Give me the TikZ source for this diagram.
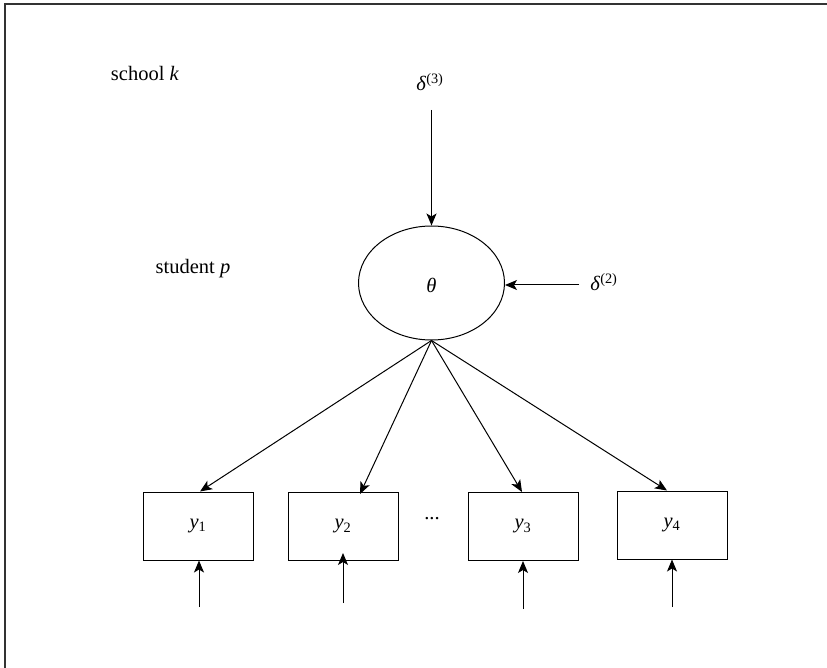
\documentclass[tikz,border=0pt]{standalone}
\usepackage{fontspec}
\setmainfont{Liberation Serif}
\usetikzlibrary{arrows.meta,shapes.geometric}
\begin{document}
\begin{tikzpicture}[x=1pt,y=-1pt,
  every node/.style={font=\fontsize{20.5}{24}\selectfont, inner sep=0pt},
  obs/.style={draw, line width=1pt, minimum width=110pt, minimum height=68pt},
  lat/.style={draw, line width=1pt, ellipse, minimum width=146pt, minimum height=114pt},
  arr/.style={line width=1pt, -{Stealth[length=12pt,width=10pt,inset=3pt]}}]
\useasboundingbox (0,0) rectangle (827,668);
\draw[line width=1.5pt, black!80] (5,668) -- (5,4) -- (827,4);

\node (school) at (145,73) {school \textit{k}};
\node (student) at (193,269) {student \textit{p}};
\node (d3) at (430,82) {\textit{δ}\textsuperscript{(3)}};
\node (d2) at (604,282) {\textit{δ}\textsuperscript{(2)}};
\node[lat] (theta) at (431.5,283) {};
\node (thetalbl) at (431.5,285) {\textit{θ}};

\node[obs] (y1) at (198,526) {\textit{y}\textsubscript{1}};
\node[obs] (y2) at (343,526.5) {\textit{y}\textsubscript{2}};
\node[obs] (y3) at (523,526.5) {\textit{y}\textsubscript{3}};
\node[obs] (y4) at (672,525) {\textit{y}\textsubscript{4}};
\node (dots) at (432,519) {...};

\coordinate (d3s) at (431.5,110);
\coordinate (d2s) at (579,285);
\coordinate (e1) at (199,607);
\coordinate (e2) at (343,603);
\coordinate (e3) at (523,609);
\coordinate (e4) at (672,607);

\draw[arr] (d3s) -- (theta.north);
\draw[arr] (d2s) -- (d2s -| theta.east);

\draw[arr] (theta.south) -- ([xshift=2pt]y1.north);
\draw[arr] (theta.south) -- ([xshift=17pt,yshift=-2pt]y2.north);
\draw[arr] (theta.south) -- ([xshift=-1pt]y3.north);
\draw[arr] (theta.south) -- ([xshift=-5pt]y4.north);

\draw[arr] (e1) -- (e1 |- y1.south);
\draw[arr] (e2) -- ([yshift=8pt]e2 |- y2.south);
\draw[arr] (e3) -- (e3 |- y3.south);
\draw[arr] (e4) -- (e4 |- y4.south);
\end{tikzpicture}
\end{document}
